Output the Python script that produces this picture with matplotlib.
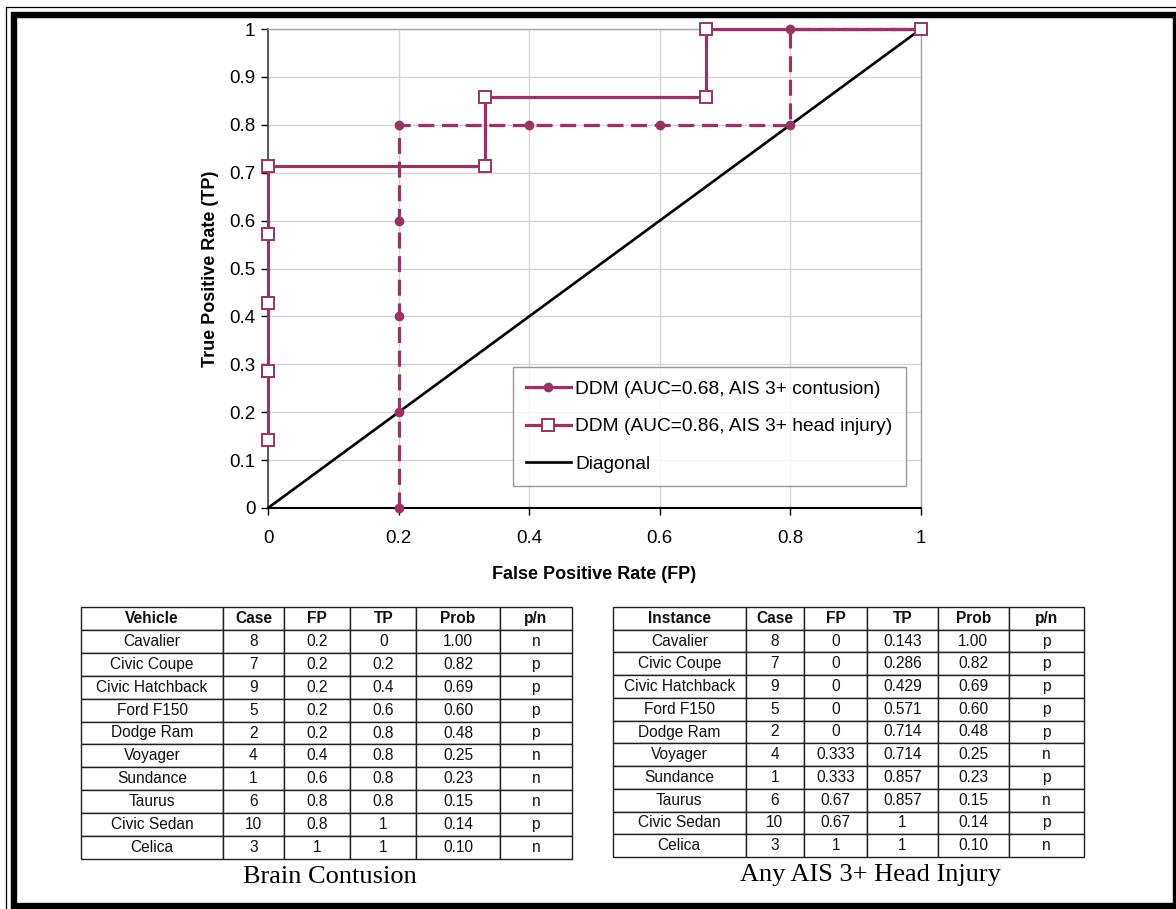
import matplotlib
matplotlib.use("Agg")
import matplotlib.pyplot as plt
from matplotlib.patches import Rectangle
from matplotlib import font_manager

# ---------------- data ----------------
vehicles = ["Cavalier", "Civic Coupe", "Civic Hatchback", "Ford F150", "Dodge Ram",
            "Voyager", "Sundance", "Taurus", "Civic Sedan", "Celica"]
cases = ["8", "7", "9", "5", "2", "4", "1", "6", "10", "3"]
probs = ["1.00", "0.82", "0.69", "0.60", "0.48", "0.25", "0.23", "0.15", "0.14", "0.10"]

cont_fp = [0.2, 0.2, 0.2, 0.2, 0.2, 0.4, 0.6, 0.8, 0.8, 1]
cont_tp = [0, 0.2, 0.4, 0.6, 0.8, 0.8, 0.8, 0.8, 1, 1]
cont_fp_lbl = ["0.2", "0.2", "0.2", "0.2", "0.2", "0.4", "0.6", "0.8", "0.8", "1"]
cont_tp_lbl = ["0", "0.2", "0.4", "0.6", "0.8", "0.8", "0.8", "0.8", "1", "1"]
cont_pn = ["n", "p", "p", "p", "p", "n", "n", "n", "p", "n"]

head_fp = [0, 0, 0, 0, 0, 0.333, 0.333, 0.67, 0.67, 1]
head_tp = [0.143, 0.286, 0.429, 0.571, 0.714, 0.714, 0.857, 0.857, 1, 1]
head_fp_lbl = ["0", "0", "0", "0", "0", "0.333", "0.333", "0.67", "0.67", "1"]
head_tp_lbl = ["0.143", "0.286", "0.429", "0.571", "0.714", "0.714", "0.857", "0.857", "1", "1"]
head_pn = ["p", "p", "p", "p", "p", "n", "p", "n", "p", "n"]

diag_x = [0, 1]
diag_y = [0, 1]

cont_label = "DDM (AUC=0.68, AIS 3+ contusion)"
head_label = "DDM (AUC=0.86, AIS 3+ head injury)"
diag_label = "Diagonal"

left_header = ["Vehicle", "Case", "FP", "TP", "Prob", "p/n"]
right_header = ["Instance", "Case", "FP", "TP", "Prob", "p/n"]
left_caption = "Brain Contusion"
right_caption = "Any AIS 3+ Head Injury"

xticks = [0, 0.2, 0.4, 0.6, 0.8, 1]
xtick_labels = ["0", "0.2", "0.4", "0.6", "0.8", "1"]
yticks = [0, 0.1, 0.2, 0.3, 0.4, 0.5, 0.6, 0.7, 0.8, 0.9, 1]
ytick_labels = ["0", "0.1", "0.2", "0.3", "0.4", "0.5", "0.6", "0.7", "0.8", "0.9", "1"]

# ---------------- style ----------------
W, H = 1176, 909
PURPLE = "#993366"
names = {f.name for f in font_manager.fontManager.ttflist}
SANS = ["Liberation Sans", "DejaVu Sans"]
NARROW = ["Liberation Sans Narrow", "Liberation Sans", "DejaVu Sans"] if "Liberation Sans Narrow" in names else SANS
SERIF = ["Liberation Serif", "DejaVu Serif"]
plt.rcParams["font.family"] = SANS

fig = plt.figure(figsize=(W / 100, H / 100), dpi=100)

def fx(px):
    return px / W

def fy(py):
    return 1 - py / H

# ---------------- ROC axes ----------------
L, R, T, B = 268, 921, 29, 508
ax = fig.add_axes([fx(L), fy(B), fx(R - L), (B - T) / H])
ax.set_xlim(0, 1)
ax.set_ylim(0, 1)
ax.grid(True, color="#d4d4d4", linewidth=1.0)
ax.set_axisbelow(True)

ax.plot(cont_fp, cont_tp, color=PURPLE, lw=2.3, ls=(0, (5, 2.4)), marker="o",
        markersize=6, markerfacecolor=PURPLE, markeredgecolor=PURPLE,
        label=cont_label, clip_on=False, zorder=4)
ax.plot(head_fp, head_tp, color=PURPLE, lw=2.3, ls="-", marker="s",
        markersize=8, markerfacecolor="white", markeredgecolor=PURPLE, markeredgewidth=1.4,
        label=head_label, clip_on=False, zorder=5)
ax.plot(diag_x, diag_y, color="black", lw=1.9, label=diag_label, zorder=3)

ax.set_xticks(xticks)
ax.set_xticklabels(xtick_labels)
ax.set_yticks(yticks)
ax.set_yticklabels(ytick_labels)
ax.tick_params(axis="x", direction="out", length=5, width=1, pad=11, labelsize=13.5, colors="black")
ax.tick_params(axis="y", direction="out", length=5, width=1, pad=4, labelsize=13.5, colors="black")
for s in ("top", "right"):
    ax.spines[s].set_color("#a6a6a6")
    ax.spines[s].set_linewidth(1.0)
ax.spines["left"].set_color("#404040")
ax.spines["left"].set_linewidth(1.2)
ax.spines["bottom"].set_color("black")
ax.spines["bottom"].set_linewidth(1.5)

ax.set_xlabel("False Positive Rate (FP)", fontsize=13, fontweight="bold")
ax.set_ylabel("True Positive Rate (TP)", fontsize=13, fontweight="bold")
ax.xaxis.set_label_coords(0.5, (B - 566) / (B - T))
ax.yaxis.set_label_coords((219 - L) / (R - L), 0.5)

leg = ax.legend(loc="upper left", bbox_to_anchor=(fx(513), fy(367)),
                bbox_transform=fig.transFigure, borderaxespad=0, fancybox=False,
                frameon=True, edgecolor="#808080", fontsize=13.8, handlelength=2.3,
                handletextpad=0.25, labelspacing=1.05, borderpad=0.7)
leg.get_frame().set_linewidth(1.0)
for ln in leg.get_lines():
    ln.set_linestyle("-")

# ---------------- overlay for tables/frame ----------------
ov = fig.add_axes([0, 0, 1, 1], zorder=10)
ov.set_xlim(0, W)
ov.set_ylim(H, 0)
ov.axis("off")
ov.patch.set_alpha(0)

def make_table(header, names_col, fp_l, tp_l, pn, x0, x1, y0, y1, col_px):
    rows = [[n, c, f, t, p, q] for n, c, f, t, p, q in zip(names_col, cases, fp_l, tp_l, probs, pn)]
    tot = sum(col_px)
    tbl = ov.table(cellText=rows, colLabels=header, cellLoc="center",
                   colWidths=[c / tot * (x1 - x0) / W for c in col_px],
                   bbox=[fx(x0), fy(y1), (x1 - x0) / W, (y1 - y0) / H])
    tbl.auto_set_font_size(False)
    tbl.set_fontsize(11.2)
    for (r, c), cell in tbl.get_celld().items():
        cell.set_edgecolor("#202020")
        cell.set_linewidth(1.0)
        cell.set_text_props(fontfamily=NARROW, color="#111111")
        if r == 0:
            cell.set_text_props(fontweight="bold", fontfamily=NARROW)
    return tbl

make_table(left_header, vehicles, cont_fp_lbl, cont_tp_lbl, cont_pn,
           81, 572, 607, 859, [142, 60.3, 66.7, 66, 83, 72.3])
make_table(right_header, vehicles, head_fp_lbl, head_tp_lbl, head_pn,
           613, 1084, 607, 857, [132.4, 58.6, 62.7, 70.7, 71, 75])

ov.text(330, 877, left_caption, ha="center", va="center", fontsize=19, family=SERIF)
ov.text(870, 875, right_caption, ha="center", va="center", fontsize=19, family=SERIF)

# outer page frame
ov.add_patch(Rectangle((6, 6.5), W + 10, H + 10, fill=False, edgecolor="black", lw=0.9))
ov.add_patch(Rectangle((13.5, 15), 1176 - 13.5, 906 - 15, fill=False, edgecolor="black", lw=4.6))

fig.savefig("out.png", dpi=100)
